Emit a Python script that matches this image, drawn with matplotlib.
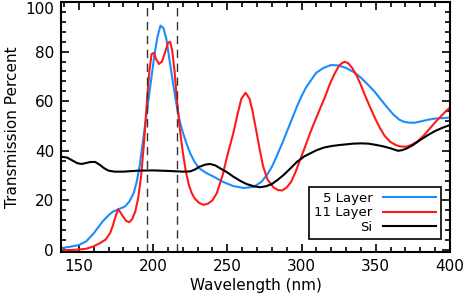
import matplotlib
matplotlib.use("Agg")
import matplotlib.pyplot as plt
from matplotlib.ticker import MultipleLocator

# values
wl_5 = [138, 144, 150, 155, 160, 166, 170, 173, 177, 181, 184, 187, 189, 191, 193,
        195, 197, 199, 201, 203, 205, 207, 209, 211, 213.5, 216, 218, 220, 222.5,
        225, 228, 231, 236, 241, 247, 254, 261, 268, 273, 277, 280, 283, 287, 290,
        294, 297, 300, 303, 307, 310, 315, 320, 325, 330, 335, 340, 345, 349, 353,
        357, 362, 366, 369, 372, 376, 380, 385, 390, 395, 400]
t_5 = [0.8, 1.3, 2, 3.5, 6.7, 11.5, 14, 15.5, 16.5, 17.5, 19.5, 23, 27.5, 34, 43,
       52, 61, 70, 79, 86, 90.5, 89.5, 85, 77, 67, 58, 52, 47.5, 43,
       39, 35.5, 33, 31, 29.5, 27.5, 25.8, 25, 25.5, 27.5, 30.5, 33.5, 37.5, 43, 47.5,
       53.5, 58, 62, 65.5, 69, 71.5, 73.5, 74.6, 74.4, 73.4, 71.8, 69.5, 66.5, 64, 61,
       58, 54.5, 52.5, 51.7, 51.4, 51.3, 51.8, 52.5, 53, 53.2, 53.4]

wl_11 = [138, 145, 150, 155, 160, 164, 168, 171, 173, 175, 176.5, 178, 180, 182, 184,
         186, 188, 190, 192, 194, 196, 197.5, 199, 200.5, 202, 204, 206, 208, 210,
         211.5, 213, 214.5, 216, 218, 220, 222, 224, 226, 228, 231, 234, 237, 240,
         243, 247, 250, 254, 257, 259.5, 262.3, 265, 267, 270, 272, 274, 277, 281,
         284, 287, 290, 293, 296, 299, 302, 306, 309, 312, 316, 319, 322, 325, 327,
         329.2, 331.5, 334, 337, 340, 343, 346, 350, 353, 356, 360, 364, 367, 371,
         374, 378, 382, 386, 390, 394, 397, 400]
t_11 = [0, 0, 0.2, 0.5, 1.5, 2.7, 4.2, 6.7, 10, 14, 16.4, 15.2, 13.3, 11.7, 11.2,
        12.5, 15.5, 21, 30, 44, 61, 72, 79, 79.5, 77, 75, 76, 79.5, 83.5,
        84, 80, 72, 61, 49, 39.5, 32, 26.5, 23, 20.8, 19, 18.2, 18.7, 20,
        23, 30.5, 38, 47, 55, 61, 63.4, 61, 56, 46.5, 40, 34, 28.5, 25.3,
        24.2, 24, 25.2, 27.5, 31.5, 36.3, 41, 47.5, 52, 56.3, 62, 66.8, 70.8, 74, 75.3,
        75.9, 75.3, 73.5, 70.5, 66.5, 62, 57.8, 52.5, 49, 46, 43.5, 42.2, 41.7, 41.7,
        42.4, 43.7, 46, 48.7, 51.5, 54, 55.8, 57.5]

wl_si = [138, 142, 146, 149, 152, 155, 158, 161, 164, 167, 170, 174, 180, 190, 200,
         210, 220, 225, 228, 231, 235, 238.3, 242, 245, 250, 254, 259, 263, 268, 272,
         276, 280, 284, 288, 292, 297, 302, 306, 310, 315, 320, 325, 330, 335, 340,
         345, 350, 355, 360, 365, 368, 371, 375, 380, 385, 390, 395, 400]
t_si = [37.6, 37.3, 36, 35, 34.7, 35.1, 35.5, 35.5, 34.4, 33, 32, 31.6, 31.6, 32, 32.1,
        31.9, 31.6, 31.7, 32.4, 33.5, 34.4, 34.7, 34.1, 33, 31.3, 29.6, 27.8, 26.6, 25.7, 25.3,
        25.7, 26.6, 28.3, 30.3, 32.6, 35.6, 37.8, 39, 40.2, 41.3, 41.9, 42.3, 42.6, 42.9, 43,
        42.9, 42.4, 41.8, 41, 40, 40.3, 41, 42.3, 44.4, 46.3, 48, 49.3, 50.4]

band_edges = [196, 216]
labels = ["5 Layer", "11 Layer", "Si"]
y_ticks = [0, 20, 40, 60, 80, 100]

plt.rcParams['font.family'] = ['DejaVu Sans']

fig = plt.figure(figsize=(4.64, 3.0), dpi=100)
ax = fig.add_axes([61 / 464, 48 / 300, 389 / 464, 250 / 300])

ax.plot(wl_5, t_5, color='#1a8cff', lw=1.5, label=labels[0])
ax.plot(wl_11, t_11, color='#ff1a1a', lw=1.5, label=labels[1])
ax.plot(wl_si, t_si, color='black', lw=1.5, label=labels[2])
for x in band_edges:
    ax.axvline(x, color='#333333', lw=1.0, ls=(0, (6, 4)))

ax.set_xlim(138, 400)
ax.set_ylim(-0.8, 100)
ax.xaxis.set_major_locator(MultipleLocator(50))
ax.xaxis.set_minor_locator(MultipleLocator(10))
ax.set_yticks(y_ticks, [str(v) for v in y_ticks])
ax.yaxis.set_minor_locator(MultipleLocator(4))
ax.tick_params(which='both', direction='in', top=True, right=True, width=1.2,
               labelsize=11, pad=5)
ax.tick_params(which='major', length=6)
ax.tick_params(which='minor', length=3.5)
# top label sits just below the frame, as in the original
ax.get_yticklabels()[-1].set_verticalalignment('top')
for s in ax.spines.values():
    s.set_linewidth(1.5)

ax.set_xlabel('Wavelength (nm)', fontsize=11, labelpad=3)
ax.set_ylabel('Transmission Percent', fontsize=11, labelpad=4)

leg = ax.legend(loc='lower right', bbox_to_anchor=(0.977, 0.052), borderaxespad=0,
                markerfirst=False, fontsize=9.5, handlelength=4.0, handletextpad=0.8,
                labelspacing=0.1, borderpad=0.4, fancybox=False, framealpha=1,
                edgecolor='black')
leg.get_frame().set_linewidth(1.2)

fig.savefig('out.png', dpi=100)
